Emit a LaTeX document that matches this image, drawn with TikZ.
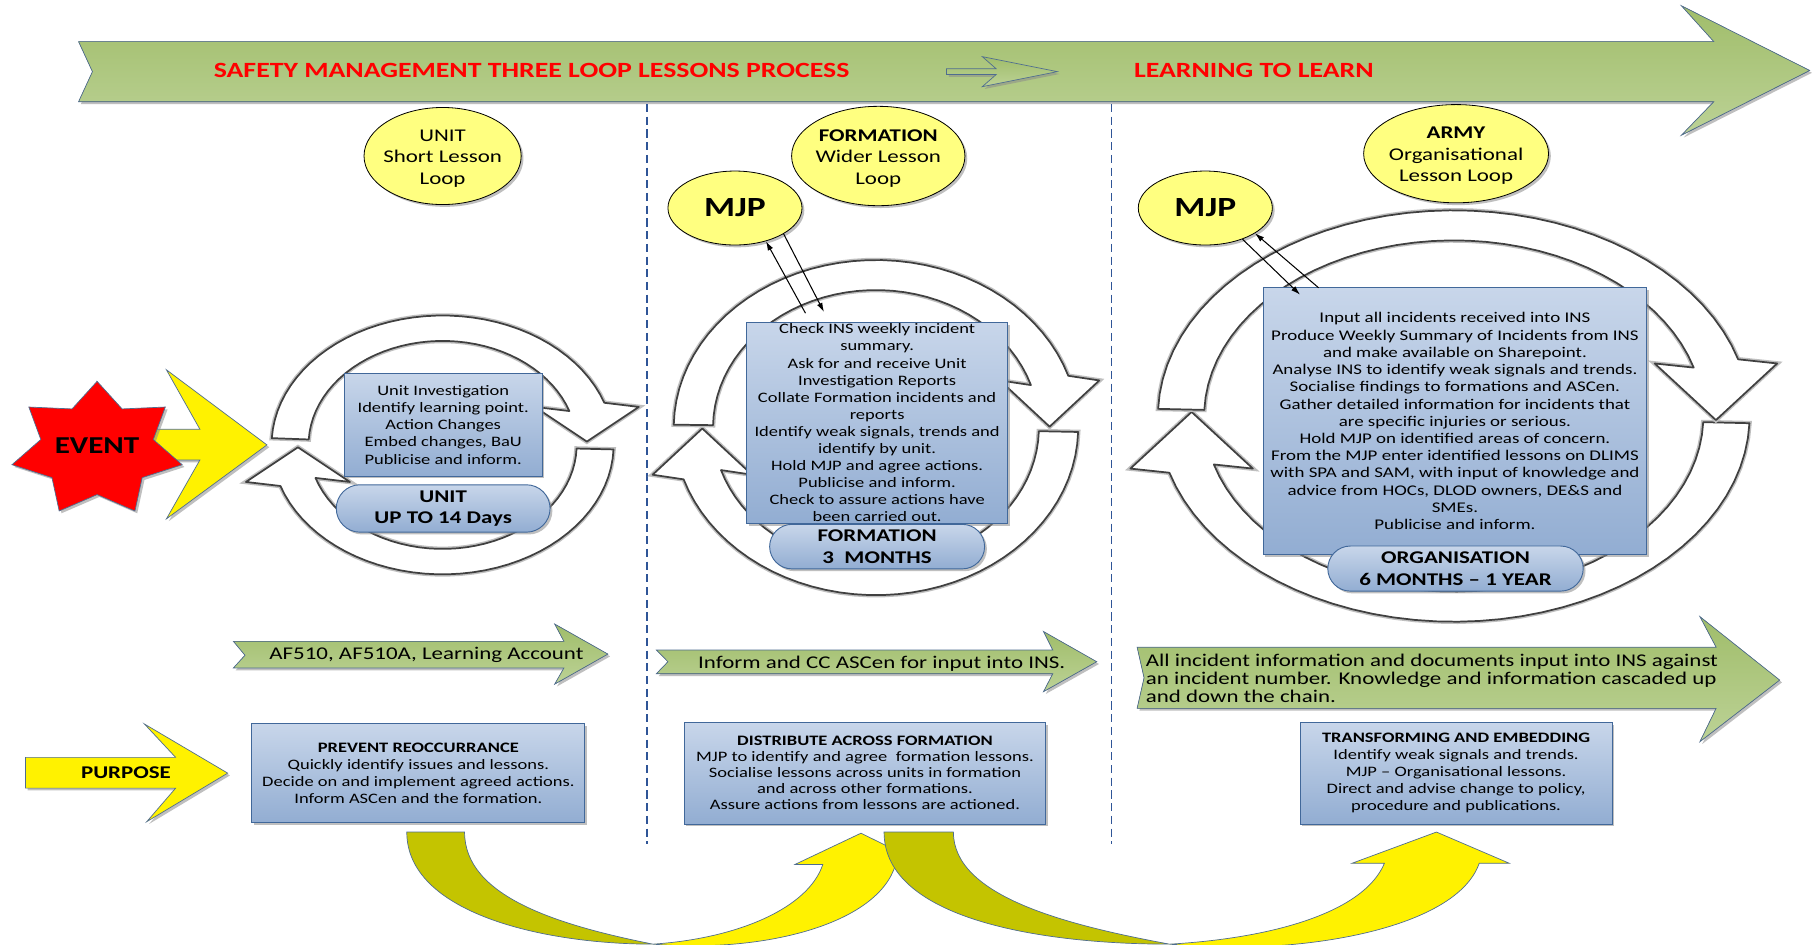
\documentclass[tikz,border=0pt]{standalone}
\usepackage{fontspec}
\setmainfont{Carlito}[FakeStretch=1.28]
\usetikzlibrary{shapes.geometric,shapes.misc,shadows,arrows.meta}

\definecolor{bandtop}{HTML}{A0BD6A}
\definecolor{bandbot}{HTML}{BCD296}
\definecolor{bandline}{HTML}{4F6D8F}
\definecolor{boxtop}{HTML}{C8D6EA}
\definecolor{boxbot}{HTML}{92ADD2}
\definecolor{boxline}{HTML}{41689A}
\definecolor{lightyellow}{HTML}{FFFF80}
\definecolor{darkolive}{HTML}{C4C400}
\definecolor{divider}{HTML}{2F5597}

\tikzset{
  softshadow/.style={drop shadow={shadow xshift=2pt, shadow yshift=-2pt, fill=black!45, opacity=0.55}},
  band/.style={draw=bandline, line width=0.6pt, top color=bandtop, bottom color=bandbot, softshadow},
  headline/.style={text=red, font=\fontsize{18.8}{22}\selectfont\bfseries},
  infobox/.style={draw=boxline, line width=0.8pt, top color=boxtop, bottom color=boxbot, softshadow, align=center, inner sep=0pt},
  periodpill/.style={rounded rectangle, draw=boxline, line width=0.8pt, top color=boxtop, bottom color=boxbot, softshadow, align=center, inner sep=0pt, font=\fontsize{15.5}{18.5}\selectfont\bfseries},
  loopbubble/.style={ellipse, draw, line width=0.7pt, fill=lightyellow, softshadow, inner sep=0pt},
  bubbletext/.style={align=center, font=\fontsize{15.5}{18.5}\selectfont},
  ringarrow/.style={fill=white, draw=black!75, line width=1.5pt, line join=round,
    preaction={draw=black!25, line width=4pt}},
  mjplink/.style={-{Latex[length=8pt,width=5pt]}, line width=0.9pt},
  yellowarrow/.style={fill=yellow, draw=bandline, line width=0.6pt, softshadow},
  curveback/.style={fill=darkolive, draw=bandline, line width=0.6pt},
  curvefront/.style={fill=yellow, draw=bandline, line width=0.6pt},
  dividerline/.style={draw=divider, line width=1.2pt, dash pattern=on 7pt off 4pt},
  bandtext/.style={font=\fontsize{15.5}{15.3}\selectfont}
}

% one half of a lesson loop: centre, radii, start and end angle, head half width, head length
\newcommand{\looparc}[8]{%
  \filldraw[ringarrow]
    plot[domain=#5:#6, samples=40] ({#1+(#3+\ringx)*cos(\x)}, {#2+(#4+\ringy)*sin(\x)})
    -- ({#1+#3*cos(#6)+(#7)}, {#2+#4*sin(#6)})
    -- ({#1+#3*cos(#6)}, {#2+#4*sin(#6)+(#8)})
    -- ({#1+#3*cos(#6)-(#7)}, {#2+#4*sin(#6)})
    -- plot[domain=#6:#5, samples=40] ({#1+(#3-\ringx)*cos(\x)}, {#2+(#4-\ringy)*sin(\x)})
    -- cycle;}

\begin{document}
\begin{tikzpicture}[x=1pt, y=-1pt]
    \useasboundingbox (0,0) rectangle (1568,817);
    \fill[white] (0,0) rectangle (1568,817);

    % Banner
    \filldraw[band] (68,36) -- (1483,36) -- (1455,5) -- (1566,61) -- (1455,117) -- (1483,88) -- (68,88) -- (80,62) -- cycle;
    \node[headline] (bannertitle) at (460,61) {SAFETY MANAGEMENT THREE LOOP LESSONS PROCESS};
    \filldraw[band, fill=bandbot] (819,59.5) -- (862,59.5) -- (850,49) -- (915,62) -- (850,75) -- (862,64.5) -- (819,64.5) -- cycle;
    \node[headline] (learntitle) at (1085,61) {LEARNING TO LEARN};

    % Dividers
    \draw[dividerline] (560,90) -- (560,730);
    \draw[dividerline] (962,90) -- (962,730);

    % Unit loop
    \def\ringx{16}\def\ringy{11}
    \looparc{383}{385}{132}{101}{2}{161.5}{-45}{-30}
    \looparc{383}{385}{132}{101}{183}{341}{45}{30}

    % Formation loop
    \def\ringx{17}\def\ringy{13}
    \looparc{758}{370}{158}{132}{1.5}{162}{-43}{-40}
    \looparc{758}{370}{158}{132}{181}{342}{43}{40}

    % Organisation loop
    \def\ringx{20}\def\ringy{13}
    \looparc{1258}{360}{236}{165}{2}{164}{-53}{-49}
    \looparc{1258}{360}{236}{165}{182}{344}{53}{49}

    % Loop boxes
    \node[infobox, minimum width=171pt, minimum height=89pt, font=\fontsize{12.5}{14.9}\selectfont] (unitbox) at (383.5,367.5)
        {Unit Investigation\\Identify learning point.\\Action Changes\\Embed changes, BaU\\Publicise and inform.};
    \node[infobox, minimum width=226pt, minimum height=174pt, font=\fontsize{12.5}{14.8}\selectfont] (formbox) at (759,366)
        {Check INS weekly incident\\summary.\\Ask for and receive Unit\\Investigation Reports\\Collate Formation incidents and\\reports\\Identify weak signals, trends and\\identify by unit.\\Hold MJP and agree actions.\\Publicise and inform.\\Check to assure actions have\\been carried out.};
    \node[infobox, minimum width=332pt, minimum height=231pt, font=\fontsize{12.8}{14.9}\selectfont] (orgbox) at (1259,364.5)
        {Input all incidents received into INS\\Produce Weekly Summary of Incidents from INS\\and make available on Sharepoint.\\Analyse INS to identify weak signals and trends.\\Socialise findings to formations and ASCen.\\Gather detailed information for incidents that\\are specific injuries or serious.\\Hold MJP on identified areas of concern.\\From the MJP enter identified lessons on DLIMS\\with SPA and SAM, with input of knowledge and\\advice from HOCs, DLOD owners, DE\&S and\\SMEs.\\Publicise and inform.};

    % Time pills
    \node[periodpill, minimum width=185pt, minimum height=41pt] (unitpill) at (383.5,440) {UNIT\\UP TO 14 Days};
    \node[periodpill, minimum width=186pt, minimum height=38.5pt] (formpill) at (759,473) {FORMATION\\3~~MONTHS};
    \node[periodpill, minimum width=221pt, minimum height=39pt] (orgpill) at (1259.5,492) {ORGANISATION\\6 MONTHS – 1 YEAR};

    % Loop bubbles
    \node[loopbubble, minimum width=136pt, minimum height=84pt] (unitbubble) at (383,135) {};
    \node[bubbletext] (unitlabel) at ([yshift=-2pt]unitbubble.center) {UNIT\\Short Lesson\\Loop};
    \node[loopbubble, minimum width=150pt, minimum height=86pt] (formbubble) at (760,135) {};
    \node[bubbletext] (formlabel) at ([yshift=-2pt]formbubble.center) {\textbf{FORMATION}\\Wider Lesson\\Loop};
    \node[loopbubble, minimum width=160pt, minimum height=85pt] (armybubble) at (1260,133) {};
    \node[bubbletext] (armylabel) at ([yshift=-2pt]armybubble.center) {\textbf{ARMY}\\Organisational\\Lesson Loop};
    \node[loopbubble, minimum width=116pt, minimum height=64pt, font=\fontsize{24}{28}\selectfont\bfseries] (mjpform) at (636,180) {MJP};
    \node[loopbubble, minimum width=116pt, minimum height=64pt, font=\fontsize{24}{28}\selectfont\bfseries] (mjparmy) at (1043,180) {MJP};

    % MJP links
    \coordinate (formin) at (697,271);
    \coordinate (formout) at (713,270);
    \draw[mjplink] (formin) -- (mjpform.-47);
    \draw[mjplink] (mjpform.-28) -- (formout);
    \coordinate (armyin) at (1141,249);
    \coordinate (armyout) at (1125,255);
    \draw[mjplink] (mjparmy.-40) -- (armyout);
    \draw[mjplink] (armyin) -- (mjparmy.-27);

    % Event
    \filldraw[yellowarrow] (100,371.5) -- (173,371.5) -- (144,320) -- (231,385) -- (144,449) -- (173,398) -- (100,398) -- cycle;
    \filldraw[fill=red, draw=bandline, line width=0.6pt, softshadow, shift={(84,389)}, xscale=1.28]
        (270:59) \foreach \k in {0,...,6} { -- ({295.71+\k*51.43}:39) -- ({321.43+\k*51.43}:59) } -- cycle;
    \node[font=\fontsize{21}{24}\selectfont\bfseries] (eventlabel) at (84,386) {EVENT};

    % Green channels
    \filldraw[band] (202,555) -- (488,555) -- (480,540) -- (526,566) -- (480,592) -- (488,578) -- (202,578) -- (212,567) -- cycle;
    \node[bandtext] (af510) at (369,567) {AF510, AF510A, Learning Account};
    \filldraw[band] (568,562.5) -- (911,562.5) -- (903,546.5) -- (949,572.6) -- (903,598.5) -- (911,583) -- (568,583) -- (578,572.6) -- cycle;
    \node[bandtext] (informcc) at (763,574) {Inform and CC ASCen for input into INS.};
    \filldraw[band] (984,560) -- (1485,560) -- (1471,533.6) -- (1540,588.5) -- (1471,641.8) -- (1485,613) -- (984,613) -- (990,586.5) -- cycle;
    \node[bandtext, align=left, anchor=west] (allincident) at (988,587)
        {All incident information and documents input into INS against\\an incident number. Knowledge and information cascaded up\\and down the chain.};

    % Purpose
    \filldraw[yellowarrow] (22,655.4) -- (152,655.4) -- (125,626.5) -- (197,669) -- (127,711) -- (152,682) -- (22,682) -- cycle;
    \node[font=\fontsize{15.5}{18}\selectfont\bfseries] (purposelabel) at (109,669) {PURPOSE};

    % Purpose boxes
    \node[infobox, minimum width=288pt, minimum height=86pt, font=\fontsize{12.5}{14.6}\selectfont] (prevent) at (362,669)
        {\textbf{PREVENT REOCCURRANCE}\\Quickly identify issues and lessons.\\Decide on and implement agreed actions.\\Inform ASCen and the formation.};
    \node[infobox, minimum width=313pt, minimum height=88pt, font=\fontsize{12.5}{13.8}\selectfont] (distribute) at (748.5,669)
        {\textbf{DISTRIBUTE ACROSS FORMATION}\\MJP to identify and agree~ formation lessons.\\Socialise lessons across units in formation\\and across other formations.\\Assure actions from lessons are actioned.};
    \node[infobox, minimum width=270pt, minimum height=88pt, font=\fontsize{12.5}{14.8}\selectfont] (transform) at (1260,669)
        {\textbf{TRANSFORMING AND EMBEDDING}\\Identify weak signals and trends.\\MJP – Organisational lessons.\\Direct and advise change to policy,\\procedure and publications.};

    % Curved arrows
    \filldraw[curveback] (352,720) .. controls (352,790) and (470,817) .. (565,817) .. controls (480,800) and (402,775) .. (402,720) -- cycle;
    \filldraw[curvefront] (565,817) .. controls (640,812) and (700,785) .. (712,748) -- (688,748) -- (745,721) -- (800,748) -- (775,748) .. controls (760,800) and (660,825) .. (565,817) -- cycle;
    \filldraw[curveback] (765,720) .. controls (765,795) and (900,817) .. (1012,817) .. controls (920,800) and (825,775) .. (825,720) -- cycle;
    \filldraw[curvefront] (1012,817) .. controls (1100,812) and (1180,790) .. (1198,747) -- (1170,747) -- (1243,720) -- (1306,747) -- (1280,747) .. controls (1260,805) and (1120,828) .. (1012,817) -- cycle;
\end{tikzpicture}
\end{document}
